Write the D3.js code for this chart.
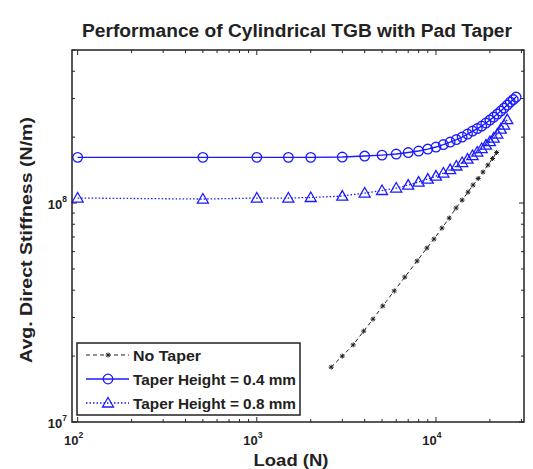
<!DOCTYPE html>
<html>
<head>
<meta charset="utf-8">
<script src="https://cdnjs.cloudflare.com/ajax/libs/d3/7.8.5/d3.min.js"></script>
<style>
    body { margin: 0; background: #fff; }
    text { font-family: "Liberation Sans", Arial, sans-serif; font-weight: bold; fill: #222; }
</style>
</head>
<body>
<svg id="chart" width="533" height="469"></svg>
<script>

// loads (N) and avg. direct stiffness (N/m)
var loadsNoTaper = [2600, 3000, 3450, 3950, 4450, 5050, 5850, 6700, 7850, 8900, 9750,
    10800, 11850, 12950, 14000, 15100, 16100, 17200, 18300, 19500, 20700, 21800];
var stiffNoTaper = [1.78e7, 2.00e7, 2.25e7, 2.60e7, 2.95e7, 3.39e7, 3.97e7, 4.59e7, 5.44e7, 6.23e7, 6.85e7,
    7.69e7, 8.54e7, 9.49e7, 1.032e8, 1.122e8, 1.208e8, 1.294e8, 1.386e8, 1.492e8, 1.597e8, 1.701e8];

var loadsTaper = [100, 500, 1000, 1500, 2000, 3000, 4000, 5000, 6000, 7000, 8000, 9000, 10000,
    11000, 12000, 13000, 14000, 15000, 16000, 17000, 18000, 19000, 20000, 21000, 22000,
    23000, 24000, 25000, 26000, 27000, 28000];
var stiff04 = [1.617e8, 1.617e8, 1.617e8, 1.617e8, 1.617e8, 1.622e8, 1.639e8, 1.656e8, 1.674e8, 1.701e8,
    1.728e8, 1.764e8, 1.802e8, 1.850e8, 1.899e8, 1.950e8, 2.002e8, 2.066e8, 2.132e8, 2.189e8,
    2.247e8, 2.319e8, 2.393e8, 2.470e8, 2.549e8, 2.631e8, 2.715e8, 2.803e8, 2.893e8, 2.969e8, 3.048e8];
var stiff08 = [1.054e8, 1.043e8, 1.054e8, 1.054e8, 1.060e8, 1.076e8, 1.111e8, 1.141e8, 1.171e8, 1.208e8,
    1.247e8, 1.287e8, 1.328e8, 1.371e8, 1.422e8, 1.476e8, 1.531e8, 1.588e8, 1.648e8, 1.710e8,
    1.774e8, 1.840e8, 1.909e8, 1.981e8, 2.066e8, 2.177e8, 2.271e8, 2.406e8];

var xMajor = [100, 1000, 10000];
var yMajor = [1e7, 1e8];
var legendNames = ["No Taper", "Taper Height = 0.4 mm", "Taper Height = 0.8 mm"];

var margin = {top: 50, right: 9, bottom: 47, left: 72};
var svg = d3.select("#chart");
var width = 533 - margin.left - margin.right;
var height = 469 - margin.top - margin.bottom;

var x = d3.scaleLog().domain([93, 31000]).range([margin.left, margin.left + width]);
var y = d3.scaleLog().domain([1e7, 5e8]).range([margin.top + height, margin.top]);

var blue = "#1a1aff";

function zip(xs, ys) {
    return ys.map(function (v, i) { return {x: xs[i], y: v}; });
}

var seriesNoTaper = zip(loadsNoTaper, stiffNoTaper);
var series04 = zip(loadsTaper, stiff04);
var series08 = zip(loadsTaper, stiff08);

var line = d3.line()
    .x(function (d) { return x(d.x); })
    .y(function (d) { return y(d.y); });

// ticks, pointing inward on all four sides
var ticks = svg.append("g").attr("stroke", "#222").attr("stroke-width", 1);
x.ticks().forEach(function (t) {
    var len = xMajor.indexOf(t) >= 0 ? 5 : 3;
    ticks.append("line").attr("x1", x(t)).attr("x2", x(t))
        .attr("y1", margin.top + height).attr("y2", margin.top + height - len);
    ticks.append("line").attr("x1", x(t)).attr("x2", x(t))
        .attr("y1", margin.top).attr("y2", margin.top + len);
});
y.ticks().forEach(function (t) {
    var len = yMajor.indexOf(t) >= 0 ? 5 : 3;
    ticks.append("line").attr("y1", y(t)).attr("y2", y(t))
        .attr("x1", margin.left).attr("x2", margin.left + len);
    ticks.append("line").attr("y1", y(t)).attr("y2", y(t))
        .attr("x1", margin.left + width).attr("x2", margin.left + width - len);
});

// tick labels 10^n
xMajor.forEach(function (t) {
    var lab = svg.append("text")
        .attr("x", x(t) - 4)
        .attr("y", margin.top + height + 23)
        .attr("text-anchor", "middle")
        .style("font-size", "13px");
    lab.append("tspan").text("10");
    lab.append("tspan").attr("dy", -7).style("font-size", "8.5px").text(Math.round(Math.log10(t)));
});
yMajor.forEach(function (t) {
    var lab = svg.append("text")
        .attr("x", margin.left - 5)
        .attr("y", y(t) + 6)
        .attr("text-anchor", "end")
        .style("font-size", "13px");
    lab.append("tspan").text("10");
    lab.append("tspan").attr("dy", -7).style("font-size", "8.5px").text(Math.round(Math.log10(t)));
});

// series lines
svg.append("path").datum(seriesNoTaper)
    .attr("d", line).attr("fill", "none").attr("stroke", "#222")
    .attr("stroke-width", 1).attr("stroke-dasharray", "4,3");
svg.append("path").datum(series04)
    .attr("d", line).attr("fill", "none").attr("stroke", blue).attr("stroke-width", 1.4);
svg.append("path").datum(series08)
    .attr("d", line).attr("fill", "none").attr("stroke", blue)
    .attr("stroke-width", 1.3).attr("stroke-dasharray", "1.5,2");

function star(sel, cx, cy) {
    var r = 2.5;
    sel.append("path")
        .attr("d", "M" + (cx - r) + "," + cy + "H" + (cx + r) +
            "M" + cx + "," + (cy - r) + "V" + (cy + r) +
            "M" + (cx - 1.8) + "," + (cy - 1.8) + "L" + (cx + 1.8) + "," + (cy + 1.8) +
            "M" + (cx - 1.8) + "," + (cy + 1.8) + "L" + (cx + 1.8) + "," + (cy - 1.8))
        .attr("stroke", "#222").attr("stroke-width", 1).attr("fill", "none");
}
function tri(sel, cx, cy) {
    sel.append("path")
        .attr("d", "M" + cx + "," + (cy - 5.5) + "L" + (cx + 5.5) + "," + (cy + 4) + "L" + (cx - 5.5) + "," + (cy + 4) + "Z")
        .attr("stroke", blue).attr("stroke-width", 1.3).attr("fill", "none");
}
function circ(sel, cx, cy) {
    sel.append("circle").attr("cx", cx).attr("cy", cy).attr("r", 4.8)
        .attr("stroke", blue).attr("stroke-width", 1.3).attr("fill", "none");
}

var marks = svg.append("g");
series08.forEach(function (d) { tri(marks, x(d.x), y(d.y)); });
series04.forEach(function (d) { circ(marks, x(d.x), y(d.y)); });
seriesNoTaper.forEach(function (d) { star(marks, x(d.x), y(d.y)); });

// axes box
svg.append("rect")
    .attr("x", margin.left).attr("y", margin.top)
    .attr("width", width).attr("height", height)
    .attr("fill", "none").attr("stroke", "#222").attr("stroke-width", 1.5);

// legend
var lg = svg.append("g");
lg.append("rect").attr("x", 77).attr("y", 343).attr("width", 223).attr("height", 72)
    .attr("fill", "#fff").attr("stroke", "#222").attr("stroke-width", 1.5);
var rowY = [355, 379, 403];
lg.append("line").attr("x1", 86).attr("x2", 129).attr("y1", rowY[0]).attr("y2", rowY[0])
    .attr("stroke", "#222").attr("stroke-dasharray", "4,3");
star(lg, 108, rowY[0]);
lg.append("line").attr("x1", 86).attr("x2", 129).attr("y1", rowY[1]).attr("y2", rowY[1])
    .attr("stroke", blue).attr("stroke-width", 1.4);
circ(lg, 108, rowY[1]);
lg.append("line").attr("x1", 86).attr("x2", 129).attr("y1", rowY[2]).attr("y2", rowY[2])
    .attr("stroke", blue).attr("stroke-width", 1.3).attr("stroke-dasharray", "1.5,2");
tri(lg, 108, rowY[2]);
var legendWidths = [68, 163, 163];
legendNames.forEach(function (name, i) {
    lg.append("text").attr("x", 133).attr("y", rowY[i] + 5.5)
        .attr("textLength", legendWidths[i]).attr("lengthAdjust", "spacingAndGlyphs")
        .style("font-size", "15px").text(name);
});

// title and axis labels
svg.append("text").attr("x", 297).attr("y", 37).attr("text-anchor", "middle")
    .attr("textLength", 430).attr("lengthAdjust", "spacingAndGlyphs")
    .style("font-size", "18px").text("Performance of Cylindrical TGB with Pad Taper");
svg.append("text").attr("x", 291).attr("y", 466).attr("text-anchor", "middle")
    .attr("textLength", 75).attr("lengthAdjust", "spacingAndGlyphs")
    .style("font-size", "17px").text("Load (N)");
svg.append("text").attr("transform", "translate(32,240) rotate(-90)").attr("text-anchor", "middle")
    .attr("textLength", 246).attr("lengthAdjust", "spacingAndGlyphs")
    .style("font-size", "17px").text("Avg. Direct Stiffness (N/m)");

</script>
</body>
</html>
